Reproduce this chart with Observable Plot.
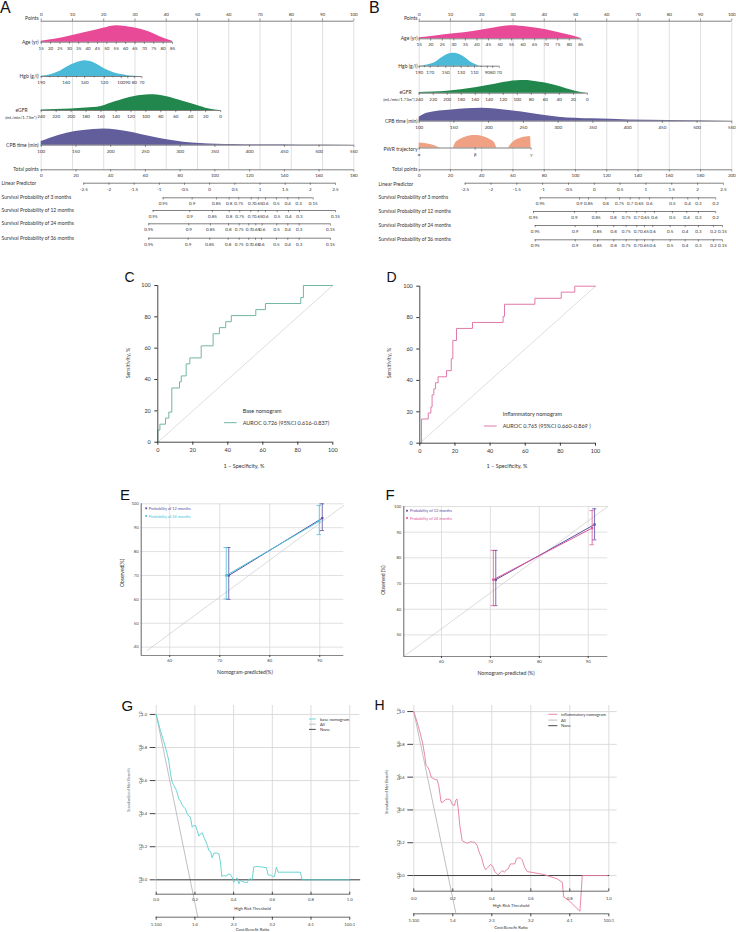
<!DOCTYPE html>
<html><head><meta charset="utf-8">
<script src="https://cdn.jsdelivr.net/npm/d3@7"></script>
<script src="https://cdn.jsdelivr.net/npm/@observablehq/plot@0.6"></script>
<style>
html,body{margin:0;padding:0;background:#fff;}
#fig{position:relative;width:736px;height:932px;overflow:hidden;background:#fff;}
</style></head><body><div id="fig"></div>
<script>
// ======================= DATA =======================
// ---- shared nomogram ticks ----
const pointsTicks = [0,10,20,30,40,50,60,70,80,90,100];
const ageTicks = [15,20,25,30,35,40,45,50,55,60,65,70,75,80,85];
const egfrTicks = [240,220,200,180,160,140,120,100,80,60,40,20,0];
const cpbTicks = [100,150,200,250,300,350,400,450,500,550];
const lpTicks = [-2.5,-2,-1.5,-1,-0.5,0,0.5,1,1.5,2,2.5];

// ---- Panel A (base nomogram) ----
const agePointsA = [0, 42];
const hgbTicksA = [190,180,170,160,150,140,130,120,110,100,90,80,70];
const hgbPointsA = [0,2.7,5.4,8.0,11.3,13.9,17.0,20.2,23.0,25.6,27.7,29.8,32.2];
const hgbLabelsA = [190,160,140,120,100,90,80,70];
const egfrPointsA = [0, 57.4];
const cpbPointsA = [0, 100];
const totalTicksA = [0,20,40,60,80,100,120,140,160,180];
const lpPointsA = [13.63, 94.15];
const survProbsA = [0.95,0.9,0.85,0.8,0.75,0.7,0.65,0.6,0.5,0.4,0.3,0.15];
const surv3A  = [-0.924,-0.348,0.135,0.387,0.578,0.825,0.964,1.109,1.327,1.552,1.770,2.056];
const surv12A = [-1.123,-0.395,0.056,0.387,0.598,0.817,0.964,1.109,1.341,1.566,1.784,2.5];
const surv24A = [-1.210,-0.415,0.016,0.374,0.586,0.777,0.916,1.043,1.333,1.552,1.778,2.400];
const surv36A = [-1.210,-0.427,0.002,0.368,0.586,0.777,0.910,1.029,1.327,1.552,1.778,2.400];
const ageDensA  = [[15,0.06],[22,0.18],[30,0.37],[38,0.57],[45,0.76],[50,0.9],[55,1.0],[60,0.96],[65,0.86],[72,0.65],[80,0.25],[85,0.06]];
const hgbDensA  = [[190,0.02],[180,0.1],[170,0.28],[160,0.58],[150,0.87],[140,1.0],[130,0.86],[120,0.5],[110,0.26],[100,0.12],[90,0.05],[80,0.015],[70,0]];
const egfrDensA = [[240,0.03],[220,0.06],[200,0.1],[180,0.16],[160,0.26],[140,0.57],[120,0.85],[100,0.98],[90,1.0],[80,0.95],[60,0.72],[54,0.64],[40,0.45],[27,0.25],[20,0.15],[0,0]];
const cpbDensA  = [[100,0.22],[113,0.43],[137,0.74],[161,0.9],[190,1.0],[209,0.94],[233,0.77],[257,0.53],[281,0.33],[305,0.18],[329,0.11],[353,0.06],[377,0.04],[425,0.02],[473,0.01],[550,0]];

// ---- Panel B (inflammatory nomogram) ----
const agePointsB = [0, 51.7];
const hgbTicksB = [190,180,170,160,150,140,130,120,110,100,90,80,70];
const hgbPointsB = [0,1.7,3.5,6.0,8.5,11.0,13.4,15.6,17.7,19.8,21.8,23.5,25.6];
const hgbLabelsB = [190,170,150,130,110,90,80,70];
const egfrPointsB = [0, 53.8];
const cpbPointsB = [0, 100];
const pwrLevels = ["α","β","γ"];
const pwrPointsB = [0, 17.9, 35.8];
const totalTicksB = [0,20,40,60,80,100,120,140,160,180,200];
const lpPointsB = [14.71, 97.31];
const survProbsB3  = [0.95,0.9,0.85,0.8,0.75,0.7,0.65,0.6,0.5,0.4,0.3,0.2];
const survProbsB24 = [0.95,0.9,0.85,0.8,0.75,0.7,0.65,0.6,0.5,0.4,0.3,0.2,0.15];
const surv3B  = [-1.047,-0.286,-0.112,0.223,0.488,0.695,0.869,1.068,1.513,1.810,2.017,2.351];
const surv12B = [-1.177,-0.383,0.037,0.372,0.617,0.823,0.985,1.165,1.513,1.790,2.017,2.351];
const surv24B = [-1.144,-0.370,0.062,0.377,0.617,0.823,0.972,1.132,1.469,1.759,2.017,2.307,2.481];
const surv36B = [-1.144,-0.370,0.062,0.377,0.617,0.823,0.972,1.132,1.469,1.759,2.017,2.307,2.481];
const ageDensB  = [[15,0.08],[22,0.22],[30,0.38],[39,0.59],[48,0.85],[55,1.0],[62,0.9],[70,0.69],[77.5,0.38],[85,0.05]];
const hgbDensB  = [[190,0],[180,0.06],[170,0.15],[163,0.31],[155,0.65],[148,0.9],[140,1.0],[132,0.9],[125,0.68],[119,0.44],[112,0.2],[105,0.05],[100,0]];
const egfrDensB = [[240,0.06],[220,0.09],[200,0.15],[180,0.27],[160,0.42],[140,0.62],[120,0.85],[100,0.98],[90,1.0],[80,0.97],[60,0.8],[45,0.6],[30,0.35],[17,0.16],[0,0]];
const cpbDensB  = [[100,0.31],[111,0.62],[147,0.87],[190,1.0],[229,0.82],[266,0.56],[301,0.31],[349,0.18],[402,0.1],[459,0.05],[550,0]];
const pwrDensB  = [
  [0,0.4,1],[0.1,0.37,1],[0.2,0.29,1],[0.3,0.15,1],[0.375,0,1],
  [0.613,0,2],[0.65,0.4,2],[0.7,0.6,2],[0.8,0.83,2],[0.9,0.96,2],[1,1.0,2],[1.1,0.96,2],[1.2,0.83,2],[1.3,0.6,2],[1.35,0.4,2],[1.386,0,2],
  [1.596,0,3],[1.65,0.35,3],[1.7,0.55,3],[1.8,0.77,3],[1.9,0.88,3],[1.99,0.93,3],[2,0,3]
];

// ---- Panels C / D (ROC) ----
const rocTicks = [0,20,40,60,80,100];
const rocChance = [[0,0],[100,100]];
const rocC = [[0,0],[0,7.7],[1.2,11.5],[4.4,15.4],[6.3,19.2],[8.0,34.6],[12.4,38.5],[13.4,42.3],[16.2,50],[18.3,53.8],[24.8,61.5],[31.6,69.2],[35.2,73.1],[38.8,76.9],[42,80.8],[56,84.6],[61.5,88.5],[81.7,92.3],[83.2,100],[100,100]];
const rocD = [[0,0],[1.0,15.4],[4.8,19.2],[6.3,23.1],[7.0,30.8],[8.0,34.6],[8.9,38.5],[10.4,42.3],[15.2,46.2],[17.9,53.8],[18.8,65.4],[20.9,73.1],[30,76.9],[47.4,80.8],[48.2,88.5],[65.5,92.3],[80.5,96.2],[88.2,100],[100,100]];

// ---- Panels E / F (calibration) ----
const calXTicks = [60,70,80,90];
const calYTicksE = [40,50,60,70,80,90,100];
const calYTicksF = [50,60,70,80,90,100];
const idealE = [[55.5,38.6],[94.8,99.3]];
const idealF = [[52.3,41.6],[94,100]];
const e12Pred = [71.8, 90.5], e12Obs = [70, 94.0], e12Lo = [60, 88.8], e12Hi = [81.7, 100];
const e24Pred = [71.3, 89.9], e24Obs = [70, 92.7], e24Lo = [60.2, 87.1], e24Hi = [81.7, 99.3];
const f12Pred = [71.1, 91.3], f12Obs = [71.5, 93.0], f12Lo = [61.4, 87.0], f12Hi = [82.9, 99.1];
const f24Pred = [70.6, 90.8], f24Obs = [71.5, 91.6], f24Lo = [61.4, 85.1], f24Hi = [82.9, 98.4];

// ---- Panels G / H (decision curves) ----
const hrtTicks = [0,0.2,0.4,0.6,0.8,1.0];
const cbLabels = ["1:100","1:4","2:3","3:2","4:1","100:1"];
const nbTicks = [0,0.2,0.4,0.6,0.8,1.0];
const allNB = [[0,1],[0.215,-0.226]];
const noneG = [[0,0],[1.052,0]];
const noneH = [[0,0],[1.0,0]];
const baseNB = [[0,1.0],[0.022,0.902],[0.040,0.832],[0.057,0.761],[0.065,0.721],[0.074,0.640],[0.083,0.590],[0.091,0.570],[0.105,0.540],[0.117,0.489],[0.126,0.475],[0.134,0.453],[0.143,0.439],[0.151,0.429],[0.160,0.399],[0.169,0.385],[0.177,0.379],[0.186,0.318],[0.194,0.328],[0.203,0.328],[0.212,0.298],[0.220,0.264],[0.229,0.278],[0.238,0.284],[0.246,0.258],[0.260,0.222],[0.272,0.177],[0.281,0.171],[0.289,0.133],[0.298,0.161],[0.312,0.161],[0.324,0.157],[0.332,0.107],[0.339,0.020],[0.349,0.026],[0.363,0.022],[0.372,0.036],[0.384,0.032],[0.392,0.016],[0.401,-0.014],[0.410,0.0],[0.418,0.012],[0.427,-0.024],[0.435,-0.004],[0.449,-0.012],[0.461,-0.016],[0.470,-0.018],[0.478,0.002],[0.487,0.006],[0.496,0.002],[0.504,0.077],[0.522,0.081],[0.547,0.077],[0.570,0.073],[0.578,0.030],[0.590,0.028],[0.604,0.020],[0.611,0.020],[0.621,0.077],[0.630,0.046],[0.651,0.046],[0.694,0.046],[0.745,0.046],[0.754,0.0],[1.0,0.0]];
const inflNB = [[0,1.0],[0.017,0.935],[0.034,0.864],[0.046,0.803],[0.056,0.732],[0.063,0.671],[0.072,0.661],[0.080,0.640],[0.089,0.600],[0.103,0.589],[0.120,0.583],[0.128,0.549],[0.140,0.447],[0.150,0.447],[0.162,0.463],[0.176,0.467],[0.188,0.461],[0.197,0.433],[0.209,0.427],[0.214,0.457],[0.221,0.467],[0.227,0.417],[0.236,0.305],[0.248,0.213],[0.262,0.203],[0.277,0.197],[0.291,0.207],[0.303,0.203],[0.313,0.203],[0.325,0.183],[0.337,0.136],[0.347,0.112],[0.359,0.057],[0.368,0.035],[0.381,0.051],[0.393,0.067],[0.405,0.057],[0.415,0.024],[0.427,0.010],[0.436,0.006],[0.444,0.020],[0.453,0.030],[0.465,0.020],[0.475,0.035],[0.484,0.041],[0.496,0.071],[0.508,0.071],[0.518,0.071],[0.526,0.102],[0.535,0.108],[0.547,0.106],[0.556,0.096],[0.568,0.051],[0.581,0.024],[0.602,0.020],[0.667,0.006],[0.735,-0.020],[0.761,-0.041],[0.769,-0.132],[0.795,-0.152],[0.852,-0.218],[0.864,0.0],[0.992,0.0]];

// ======================= STYLE =======================
const FONT = "Lato, 'Open Sans', 'Liberation Sans', sans-serif";
const TXT = "#333";
const COL = {age:"#e84a97", hgb:"#4bbad8", egfr:"#21874c", cpb:"#625d9b", pwr:"#f1a183",
  rocC:"#72b6a6", rocD:"#e07aa9", p12:"#5b4fa3", p24E:"#4bc2da", p24F:"#e0559d",
  base:"#5ad0cf", infl:"#e47aa4", all:"#b8b8b8", none:"#333333", grid:"#d8d8d8"};

const fig = document.getElementById("fig");
function place(el, left, top) {
  el.style.position = "absolute"; el.style.left = left + "px"; el.style.top = top + "px";
  fig.appendChild(el); return el;
}

// ======================= NOMOGRAMS =======================
const tk = (vals, scale, labels = vals) => vals.map(v => ({p: scale(v), label: labels.includes(v) ? String(v) : null}));
const survTk = (probs, lps, lpScale) => probs.map((pr, i) => ({p: lpScale(lps[i]), label: String(pr)}));
const dens = (rows, scale) => rows.map(r => ({p: scale(r[0]), h: r[1], k: r[2] || 0}));

function nomogram(o) {
  const axisRows = o.axes.map(a => ({y: a.y, p0: d3.min(a.ticks, t => t.p), p1: d3.max(a.ticks, t => t.p)}));
  const tickRows = o.axes.flatMap(a => a.ticks.map(t => ({p: t.p, label: t.label, y: a.y, dir: a.dir, len: t.label == null ? 1.4 : 2.2})));
  return Plot.plot({
    width: o.width, height: o.height, margin: 0,
    x: {domain: [0, 100], range: o.xRange, axis: null},
    y: {domain: [0, o.height], range: [0, o.height], axis: null},
    style: {background: "transparent", fontFamily: FONT, color: TXT},
    marks: [
      Plot.ruleX(pointsTicks, {x: d => d, y1: o.grid[0], y2: o.grid[1], stroke: "#dcdcdc", strokeWidth: 0.9}),
      ...o.dens.map(d => Plot.area(d.rows, {x1: "p", y1: d.y, y2: v => d.y - v.h * d.maxH, z: "k", fill: d.color, curve: "monotone-x"})),
      Plot.ruleY(axisRows, {y: "y", x1: "p0", x2: "p1", stroke: "#4a4a4a", strokeWidth: 0.7}),
      Plot.ruleX(tickRows, {x: "p", y1: "y", y2: t => t.y + t.dir * t.len, stroke: "#4a4a4a", strokeWidth: 0.6}),
      Plot.text(tickRows.filter(t => t.label != null), {x: "p", y: t => t.y + t.dir * 6.2, text: "label", fontSize: 4.5, fill: TXT}),
      ...o.labels.map(l => Plot.text([l], {x: 0, y: "y", text: "text", textAnchor: l.anchor, dx: l.dx, fontSize: l.size || 5, fill: TXT}))
    ]
  });
}

// Panel A
{
  const s = {
    age: d3.scaleLinear([15, 85], agePointsA),
    hgb: d3.scaleLinear(hgbTicksA, hgbPointsA),
    egfr: d3.scaleLinear([240, 0], egfrPointsA),
    cpb: d3.scaleLinear([100, 550], cpbPointsA),
    total: d3.scaleLinear([0, totalTicksA[totalTicksA.length - 1]], [0, 100]),
    lp: d3.scaleLinear([-2.5, 2.5], lpPointsA)
  };
  const R = {pts: 20.7, age: 41.7, hgb: 76, egfr: 110, cpb: 144.7, tot: 169.3, lp: 182.7, s3: 197.3, s12: 210, s24: 223.3, s36: 237.7};
  const x0 = 40.7;
  const el = nomogram({
    width: 368, height: 250, xRange: [x0, 353.3], grid: [R.pts, R.tot],
    axes: [
      {y: R.pts, dir: -1, ticks: tk(pointsTicks, d => d)},
      {y: R.age, dir: 1, ticks: tk(ageTicks, s.age)},
      {y: R.hgb, dir: 1, ticks: tk(hgbTicksA, s.hgb, hgbLabelsA)},
      {y: R.egfr, dir: 1, ticks: tk(egfrTicks, s.egfr)},
      {y: R.cpb, dir: 1, ticks: tk(cpbTicks, s.cpb)},
      {y: R.tot, dir: 1, ticks: tk(totalTicksA, s.total)},
      {y: R.lp, dir: 1, ticks: tk(lpTicks, s.lp)},
      {y: R.s3, dir: 1, ticks: survTk(survProbsA, surv3A, s.lp)},
      {y: R.s12, dir: 1, ticks: survTk(survProbsA, surv12A, s.lp)},
      {y: R.s24, dir: 1, ticks: survTk(survProbsA, surv24A, s.lp)},
      {y: R.s36, dir: 1, ticks: survTk(survProbsA, surv36A, s.lp)}
    ],
    dens: [
      {y: R.age, maxH: 16.4, color: COL.age, rows: dens(ageDensA, s.age)},
      {y: R.hgb, maxH: 15.7, color: COL.hgb, rows: dens(hgbDensA, s.hgb)},
      {y: R.egfr, maxH: 15.7, color: COL.egfr, rows: dens(egfrDensA, s.egfr)},
      {y: R.cpb, maxH: 16.3, color: COL.cpb, rows: dens(cpbDensA, s.cpb)}
    ],
    labels: [
      {y: 18.3, text: "Points", anchor: "end", dx: -2.5},
      {y: R.age, text: "Age (yr)", anchor: "end", dx: -2.5},
      {y: R.hgb, text: "Hgb (g/l)", anchor: "end", dx: -2.5},
      {y: R.egfr, text: "eGFR", anchor: "middle", dx: 21 - x0},
      {y: R.egfr + 6.7, text: "(mL/min/1.73m²)", anchor: "end", dx: -4.6, size: 4.2},
      {y: R.cpb, text: "CPB time (min)", anchor: "end", dx: -2.5},
      {y: R.tot, text: "Total points", anchor: "end", dx: -2.5},
      {y: R.lp + 0.6, text: "Linear Predictor", anchor: "start", dx: 1 - x0},
      {y: R.s3, text: "Survival Probability of 3 months", anchor: "start", dx: 1 - x0},
      {y: R.s12, text: "Survival Probability of 12 months", anchor: "start", dx: 1 - x0},
      {y: R.s24, text: "Survival Probability of 24 months", anchor: "start", dx: 1 - x0},
      {y: R.s36, text: "Survival Probability of 36 months", anchor: "start", dx: 1 - x0}
    ]
  });
  place(el, 0, 0);
}

// Panel B
{
  const s = {
    age: d3.scaleLinear([15, 85], agePointsB),
    hgb: d3.scaleLinear(hgbTicksB, hgbPointsB),
    egfr: d3.scaleLinear([240, 0], egfrPointsB),
    cpb: d3.scaleLinear([100, 550], cpbPointsB),
    pwr: d3.scaleLinear([0, 1, 2], pwrPointsB),
    total: d3.scaleLinear([0, totalTicksB[totalTicksB.length - 1]], [0, 100]),
    lp: d3.scaleLinear([-2.5, 2.5], lpPointsB)
  };
  const R = {pts: 20.7, age: 38.3, hgb: 65.7, egfr: 92.7, cpb: 120.7, pwr: 147.5, tot: 169.3, lp: 182.7, s3: 197.3, s12: 211, s24: 225, s36: 239.3};
  const x0 = 50.7;
  const el = nomogram({
    width: 368, height: 250, xRange: [x0, 363.3], grid: [R.pts, R.tot],
    axes: [
      {y: R.pts, dir: -1, ticks: tk(pointsTicks, d => d)},
      {y: R.age, dir: 1, ticks: tk(ageTicks, s.age)},
      {y: R.hgb, dir: 1, ticks: tk(hgbTicksB, s.hgb, hgbLabelsB)},
      {y: R.egfr, dir: 1, ticks: tk(egfrTicks, s.egfr)},
      {y: R.cpb, dir: 1, ticks: tk(cpbTicks, s.cpb)},
      {y: R.pwr, dir: 1, ticks: pwrLevels.map((l, i) => ({p: pwrPointsB[i], label: l}))},
      {y: R.tot, dir: 1, ticks: tk(totalTicksB, s.total)},
      {y: R.lp, dir: 1, ticks: tk(lpTicks, s.lp)},
      {y: R.s3, dir: 1, ticks: survTk(survProbsB3, surv3B, s.lp)},
      {y: R.s12, dir: 1, ticks: survTk(survProbsB3, surv12B, s.lp)},
      {y: R.s24, dir: 1, ticks: survTk(survProbsB24, surv24B, s.lp)},
      {y: R.s36, dir: 1, ticks: survTk(survProbsB24, surv36B, s.lp)}
    ],
    dens: [
      {y: R.age, maxH: 13, color: COL.age, rows: dens(ageDensB, s.age)},
      {y: R.hgb, maxH: 13, color: COL.hgb, rows: dens(hgbDensB, s.hgb)},
      {y: R.egfr, maxH: 12.7, color: COL.egfr, rows: dens(egfrDensB, s.egfr)},
      {y: R.cpb, maxH: 13, color: COL.cpb, rows: dens(cpbDensB, s.cpb)},
      {y: R.pwr, maxH: 12.5, color: COL.pwr, rows: dens(pwrDensB, s.pwr)}
    ],
    labels: [
      {y: 18.3, text: "Points", anchor: "end", dx: -1.7},
      {y: R.age, text: "Age (yr)", anchor: "end", dx: -1.7},
      {y: R.hgb, text: "Hgb (g/l)", anchor: "end", dx: -1.7},
      {y: R.egfr - 1, text: "eGFR", anchor: "middle", dx: 37 - x0},
      {y: R.egfr + 6.3, text: "(mL/min/1.73m²)", anchor: "end", dx: -4.6, size: 4.2},
      {y: R.cpb, text: "CPB time (min)", anchor: "end", dx: -1.7},
      {y: R.pwr + 1.5, text: "PWR trajectory", anchor: "end", dx: -1.7},
      {y: R.tot, text: "Total points", anchor: "end", dx: -1.7},
      {y: R.lp + 1, text: "Linear Predictor", anchor: "start", dx: 10 - x0},
      {y: R.s3 - 0.5, text: "Survival Probability of 3 months", anchor: "start", dx: 10 - x0},
      {y: R.s12 - 0.5, text: "Survival Probability of 12 months", anchor: "start", dx: 10 - x0},
      {y: R.s24 - 0.5, text: "Survival Probability of 24 months", anchor: "start", dx: 10 - x0},
      {y: R.s36 - 0.5, text: "Survival Probability of 36 months", anchor: "start", dx: 10 - x0}
    ]
  });
  place(el, 368, 0);
}

// ======================= ROC (C, D) =======================
function rocPlot(curve, color, m) {
  return Plot.plot({
    width: 250, height: 210, marginLeft: m[0], marginRight: m[1], marginTop: m[2], marginBottom: m[3],
    x: {domain: [0, 100]}, y: {domain: [0, 100]},
    style: {background: "transparent", fontFamily: FONT, fontSize: "5.5px", color: TXT},
    marks: [
      Plot.line(rocChance, {x: d => d[0], y: d => d[1], stroke: "#c8c8c8", strokeWidth: 0.6}),
      Plot.line(curve, {x: d => d[0], y: d => d[1], curve: "step-after", stroke: color, strokeWidth: 1}),
      Plot.ruleX([0], {y1: 0, y2: 100, stroke: "#333", strokeWidth: 0.9}),
      Plot.ruleY([0], {x1: 0, x2: 100, stroke: "#333", strokeWidth: 0.9}),
      Plot.axisX(rocTicks, {tickSize: 3, tickPadding: 3, label: null, fill: TXT}),
      Plot.axisY(rocTicks, {tickSize: 3, tickPadding: 4, label: null, fill: TXT})
    ]
  });
}
place(rocPlot(rocC, COL.rocC, [57.3, 17.7, 15, 38.3]), 100, 270);
place(rocPlot(rocD, COL.rocD, [59.3, 15, 15.7, 37.3]), 360, 270);

// ======================= CALIBRATION (E, F) =======================
function calRows(pred, obs, lo, hi, key) { return pred.map((p, i) => ({x: p, y: obs[i], lo: lo[i], hi: hi[i], k: key})); }
function calPlot(o) {
  return Plot.plot({
    width: o.w, height: 180, marginLeft: o.m[0], marginRight: o.m[1], marginTop: o.m[2], marginBottom: o.m[3],
    x: {domain: o.xd}, y: {domain: o.yd},
    style: {background: "transparent", fontFamily: FONT, fontSize: "4.2px", color: "#444"},
    marks: [
      Plot.gridX(calXTicks, {stroke: COL.grid, strokeOpacity: 1, strokeWidth: 0.8}),
      Plot.gridY(o.yt, {stroke: COL.grid, strokeOpacity: 1, strokeWidth: 0.8}),
      Plot.line(o.ideal, {x: d => d[0], y: d => d[1], stroke: "#c4c4c4", strokeWidth: 0.6}),
      Plot.ruleX([o.xd[0]], {y1: o.yd[0], y2: o.yd[1], stroke: "#555", strokeWidth: 0.9}),
      Plot.ruleY([o.yd[0]], {x1: o.xd[0], x2: o.xd[1], stroke: "#555", strokeWidth: 0.7}),
      ...[[o.a, o.ca], [o.b, o.cb]].flatMap(([r, c]) => [
        Plot.ruleX(r, {x: "x", y1: "lo", y2: "hi", stroke: c, strokeWidth: 0.8}),
        Plot.ruleY(r, {y: "lo", x1: d => d.x - o.cap, x2: d => d.x + o.cap, stroke: c, strokeWidth: 0.8}),
        Plot.ruleY(r, {y: "hi", x1: d => d.x - o.cap, x2: d => d.x + o.cap, stroke: c, strokeWidth: 0.8}),
        Plot.line(r, {x: "x", y: "y", stroke: c, strokeWidth: 1}),
        Plot.dot(r, {x: "x", y: "y", symbol: "square", r: 1.3, fill: c})
      ]),
      Plot.axisX(calXTicks, {tickSize: 2, tickPadding: 2, label: null, fill: "#444"}),
      Plot.axisY(o.yt, {tickSize: 0, tickPadding: 2.5, label: null, fill: "#444"})
    ]
  });
}
place(calPlot({w: 260, m: [40.7, 16.7, 13.3, 15], xd: [54.3, 94.8], yd: [36.5, 100], yt: calYTicksE, ideal: idealE, cap: 0.45,
  a: calRows(e12Pred, e12Obs, e12Lo, e12Hi, "12"), b: calRows(e24Pred, e24Obs, e24Lo, e24Hi, "24"), ca: COL.p12, cb: COL.p24E}), 100, 490);
place(calPlot({w: 240, m: [23.3, 12.7, 16, 14], xd: [52.3, 94], yd: [41.6, 100], yt: calYTicksF, ideal: idealF, cap: 0.45,
  a: calRows(f12Pred, f12Obs, f12Lo, f12Hi, "12"), b: calRows(f24Pred, f24Obs, f24Lo, f24Hi, "24"), ca: COL.p12, cb: COL.p24F}), 380, 490);

// ======================= DECISION CURVES (G, H) =======================
function dcaPlot(o) {
  return Plot.plot({
    width: 245, height: 232, marginLeft: o.m[0], marginRight: o.m[1], marginTop: o.m[2], marginBottom: o.m[3],
    x: {domain: o.xd}, y: {domain: o.yd},
    style: {background: "transparent", fontFamily: FONT, fontSize: "4.2px", color: "#444"},
    marks: [
      Plot.gridX(hrtTicks, {stroke: COL.grid, strokeOpacity: 1, strokeWidth: 0.9}),
      Plot.gridY(nbTicks, {stroke: COL.grid, strokeOpacity: 1, strokeWidth: 0.9}),
      Plot.line(allNB, {x: d => d[0], y: d => d[1], stroke: COL.all, strokeWidth: 0.9}),
      Plot.line(o.none, {x: d => d[0], y: d => d[1], stroke: COL.none, strokeWidth: 0.9}),
      Plot.line(o.curve, {x: d => d[0], y: d => d[1], stroke: o.color, strokeWidth: 0.9}),
      Plot.ruleY([o.yd[0]], {x1: hrtTicks[0], x2: hrtTicks[hrtTicks.length - 1], dy: o.axisDy, stroke: "#444", strokeWidth: 0.8}),
      Plot.axisX(hrtTicks, {tickSize: 3, tickPadding: o.pad, tickFormat: d => d.toFixed(1), label: null, fill: "#444"}),
      Plot.text(nbTicks, {x: o.xd[0], y: d => d, text: d => d.toFixed(1), rotate: -90, dx: -15.6, fontSize: 4.2, fill: "#444"})
    ]
  });
}
function cbPlot(o) {
  const fmt = new Map(hrtTicks.map((t, i) => [t, cbLabels[i]]));
  return Plot.plot({
    width: 245, height: 20, marginLeft: o.m[0], marginRight: o.m[1], marginTop: o.mt, marginBottom: 20 - o.mt,
    x: {domain: o.xd}, y: {domain: [0, 1], axis: null},
    style: {background: "transparent", fontFamily: FONT, fontSize: "4.2px", color: "#444"},
    marks: [
      Plot.ruleY([0], {x1: hrtTicks[0], x2: hrtTicks[hrtTicks.length - 1], stroke: "#444", strokeWidth: 0.8}),
      Plot.axisX(hrtTicks, {tickSize: 3, tickPadding: 2.5, tickFormat: d => fmt.get(d), label: null, fill: "#444"})
    ]
  });
}
place(dcaPlot({m: [35.7, 5.7, 5, 40.3], xd: [0, 1.052], yd: [-0.075, 1.054], none: noneG, curve: baseNB, color: COL.base, pad: 3, axisDy: 2}), 120, 700);
place(cbPlot({m: [35.7, 5.7], xd: [0, 1.052], mt: 4.7}), 120, 912);
place(dcaPlot({m: [38.3, 3.3, 5, 43.7], xd: [0, 1.043], yd: [-0.081, 1.037], none: noneH, curve: inflNB, color: COL.infl, pad: 5.5, axisDy: 2.4}), 375, 700);
place(cbPlot({m: [38.3, 3.3], xd: [0, 1.043], mt: 4.3}), 375, 909);

// ======================= TEXT OVERLAY =======================
const ov = d3.select(fig).append("svg").attr("width", 736).attr("height", 932)
  .style("position", "absolute").style("left", "0px").style("top", "0px").style("pointer-events", "none");
function T(text, x, y, o = {}) {
  const t = ov.append("text").attr("x", x).attr("y", y).attr("dominant-baseline", "central")
    .attr("text-anchor", o.anchor || "start").attr("font-size", o.size || 5.5)
    .attr("fill", o.color || TXT).attr("font-family", o.family || FONT).text(text);
  if (o.rotate) t.attr("transform", `rotate(${o.rotate},${x},${y})`);
}
function L(x1, x2, y, color, w = 0.9) {
  ov.append("line").attr("x1", x1).attr("x2", x2).attr("y1", y).attr("y2", y).attr("stroke", color).attr("stroke-width", w);
}
function S(x, y, color) { ov.append("rect").attr("x", x - 0.9).attr("y", y - 0.9).attr("width", 1.8).attr("height", 1.8).attr("fill", color); }
const LET = {family: "'Liberation Sans', Arial, sans-serif", color: "#111"};
T("A", 0, 7.6, {...LET, size: 16});
T("B", 369, 7.8, {...LET, size: 16});
T("C", 124.5, 277, {...LET, size: 14});
T("D", 386.5, 277, {...LET, size: 14});
T("E", 120, 494, {...LET, size: 15});
T("F", 385.5, 494, {...LET, size: 15});
T("G", 121.5, 705, {...LET, size: 15});
T("H", 374.5, 705, {...LET, size: 14});

// C
T("Sensitivity, %", 128.3, 363, {anchor: "middle", rotate: -90, size: 5.3});
T("1 – Specificity, %", 244, 465.5, {anchor: "middle", size: 5.5});
T("Base nomogram", 242.7, 410.7, {size: 5.5});
L(224, 236.7, 422.7, COL.rocC, 1);
T("AUROC 0.726 (95%CI 0.616-0.837)", 242.7, 422.7, {size: 5.5});
// D
T("Sensitivity, %", 389.3, 363, {anchor: "middle", rotate: -90, size: 5.3});
T("1 – Specificity, %", 507, 465.5, {anchor: "middle", size: 5.5});
T("Inflammatory nomogram", 502.7, 414.3, {size: 5.5});
L(484, 496.7, 426, COL.rocD, 1);
T("AUROC 0.765 (95%CI 0.660-0.869 )", 502.7, 426, {size: 5.5});
// E
T("Observed(%)", 121.7, 573, {anchor: "middle", rotate: -90, size: 5});
T("Nomogram-predicted(%)", 245, 672, {anchor: "middle", size: 5.2});
S(146.2, 508.3, COL.p12); T("Probability of 12 months", 148.7, 508.3, {size: 3.9, color: COL.p12});
S(146.2, 516, COL.p24E); T("Probability of 24 months", 148.7, 516, {size: 3.9, color: COL.p24E});
// F
T("Observed (%)", 383, 580, {anchor: "middle", rotate: -90, size: 5});
T("Nomogram-predicted (%)", 506, 673.3, {anchor: "middle", size: 5.2});
S(407, 510.7, COL.p12); T("Probability of 12 months", 410, 510.7, {size: 3.9, color: COL.p12});
S(407, 518, COL.p24F); T("Probability of 24 months", 410, 518, {size: 3.9, color: COL.p24F});
// G
T("Standardized Net Benefit", 128.5, 790, {anchor: "middle", rotate: -90, size: 4, color: "#777"});
T("High Risk Threshold", 252.5, 908.7, {anchor: "middle", size: 4.2});
T("Cost:Benefit Ratio", 252.5, 929.5, {anchor: "middle", size: 4.2});
L(309, 315.7, 719, COL.base); T("base nomogram", 320, 719, {size: 4.2});
L(309, 315.7, 724.2, COL.all); T("All", 320, 724.2, {size: 4.2});
L(309, 315.7, 729.4, COL.none); T("None", 320, 729.4, {size: 4.2});
// H
T("Standardized Net Benefit", 386.7, 792, {anchor: "middle", rotate: -90, size: 4, color: "#555"});
T("High Risk Threshold", 511, 905.5, {anchor: "middle", size: 4.2});
T("Cost:Benefit Ratio", 511, 927.3, {anchor: "middle", size: 4.2});
L(548.3, 557.3, 714.3, COL.infl); T("inflammatory nomogram", 561, 714.3, {size: 4.2});
L(548.3, 557.3, 720.1, COL.all); T("All", 561, 720.1, {size: 4.2});
L(548.3, 557.3, 725.7, COL.none); T("None", 561, 725.7, {size: 4.2});
</script></body></html>
